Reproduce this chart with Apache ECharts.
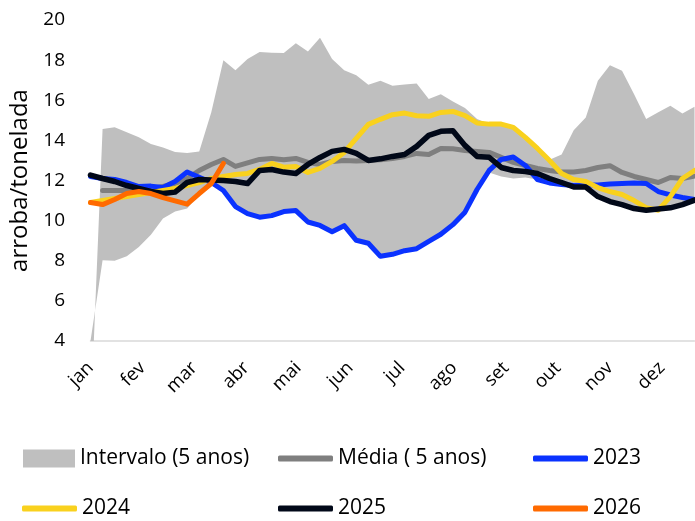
<!DOCTYPE html>
<html>
<head>
<meta charset="utf-8">
<script src="https://cdn.jsdelivr.net/npm/echarts@6/dist/echarts.min.js"></script>
<style>html,body{margin:0;padding:0;background:#fff}#c{width:695px;height:521px}</style>
</head>
<body>
<div id="c"></div>
<script>
const months = ['jan','fev','mar','abr','mai','jun','jul','ago','set','out','nov','dez'];
const weeks = [0,1,2,3,4,5,6,7,8,9,10,11,12,13,14,15,16,17,18,19,20,21,22,23,24,25,26,27,28,29,30,31,32,33,34,35,36,37,38,39,40,41,42,43,44,45,46,47,48,49,50];
const bandMax = [0,14.57,14.65,14.4,14.15,13.82,13.65,13.42,13.37,13.45,15.4,18.0,17.5,18.05,18.4,18.37,18.36,18.84,18.43,19.12,18.05,17.5,17.25,16.77,16.97,16.72,16.78,16.83,16.06,16.3,15.94,15.61,15.06,14.81,14.81,14.65,14.15,13.6,13.03,13.29,14.5,15.14,16.97,17.75,17.47,16.3,15.06,15.4,15.73,15.34,15.68];
const bandMin = [0,8.03,8.0,8.22,8.68,9.3,10.1,10.45,10.6,11.3,11.8,11.5,10.7,10.35,10.17,10.25,10.45,10.5,9.93,9.76,9.45,9.75,9.02,8.87,8.22,8.32,8.5,8.6,8.97,9.32,9.8,10.42,11.55,12.4,12.2,12.1,12.15,12.05,11.88,11.8,11.68,11.67,11.2,10.95,10.8,10.6,10.52,10.5,10.64,10.8,11.0];
const media = [null,11.5,11.5,11.5,11.55,11.6,11.7,11.85,12.1,12.5,12.8,13.05,12.7,12.88,13.05,13.1,13.03,13.1,12.9,12.8,12.95,13.0,12.97,13.0,13.03,13.1,13.2,13.35,13.3,13.6,13.58,13.5,13.45,13.4,13.15,12.9,12.75,12.6,12.5,12.42,12.42,12.5,12.65,12.74,12.4,12.2,12.05,11.9,12.15,12.1,12.22];
const y2023 = [12.2,12.1,12.05,11.9,11.7,11.72,11.65,11.95,12.42,12.16,11.9,11.5,10.7,10.35,10.17,10.25,10.45,10.5,9.93,9.76,9.45,9.75,9.02,8.87,8.22,8.32,8.5,8.6,8.97,9.32,9.8,10.42,11.55,12.5,13.05,13.17,12.75,12.05,11.88,11.8,11.75,11.78,11.78,11.82,11.85,11.88,11.85,11.45,11.28,11.15,11.05];
const y2024 = [10.9,11.0,11.1,11.2,11.3,11.4,11.5,11.6,11.75,11.9,12.1,12.2,12.3,12.35,12.55,12.85,12.66,12.7,12.4,12.6,12.95,13.4,14.1,14.8,15.05,15.28,15.36,15.23,15.2,15.39,15.44,15.23,14.87,14.81,14.81,14.65,14.15,13.6,13.0,12.35,12.05,11.95,11.65,11.45,11.3,11.0,10.65,10.52,11.2,12.1,12.5];
const y2025 = [12.27,12.1,11.95,11.75,11.6,11.45,11.35,11.42,11.9,12.05,12.03,12.0,11.95,11.85,12.5,12.55,12.42,12.35,12.8,13.15,13.45,13.55,13.35,13.0,13.08,13.2,13.3,13.7,14.25,14.45,14.48,13.75,13.2,13.16,12.65,12.5,12.45,12.35,12.1,11.9,11.68,11.67,11.2,10.95,10.8,10.6,10.52,10.58,10.64,10.8,11.02];
const y2026 = [10.9,10.8,11.05,11.35,11.45,11.35,11.15,10.98,10.82,11.35,11.85,12.85];
const yTicks = {min: 4, max: 20, interval: 2};

const FONT = 'Open Sans';
const MONTH_STEP = 4.3;

const bandDiff = bandMax.map((v, i) => +(v - bandMin[i]).toFixed(3));

function lineSeries(name, arr, color, width) {
  return {
    name, type: 'line', xAxisIndex: 0, data: arr, symbol: 'none', smooth: false,
    connectNulls: false,
    lineStyle: {color, width, cap: 'round', join: 'round'}, itemStyle: {color},
    emphasis: {disabled: true}, silent: true, z: 3
  };
}

const textBase = {fontFamily: FONT, color: '#000', fontSize: 21, lineHeight: 20};
function legend(left, top, name, icon, color, w, h) {
  return {
    left, top, orient: 'vertical', padding: 0, itemGap: 0,
    itemWidth: w, itemHeight: h, selectedMode: false,
    data: [{name, icon, itemStyle: {color}}],
    textStyle: textBase
  };
}

const chart = echarts.init(document.getElementById('c'), null, {renderer: 'canvas'});
chart.setOption({
  animation: false,
  backgroundColor: '#fff',
  grid: {left: 90.5, right: 0.5, top: 20, bottom: 180, containLabel: false, outerBoundsMode: 'none'},
  legend: [
    legend(23, 448, 'Intervalo (5 anos)', 'rect', '#bfbfbf', 52, 18),
    legend(278, 448, 'Média ( 5 anos)', 'roundRect', '#7f7f7f', 55, 6),
    legend(533, 448, '2023', 'roundRect', '#0a32ff', 55, 6),
    legend(22, 498, '2024', 'roundRect', '#f9d11e', 55, 6),
    legend(278, 498, '2025', 'roundRect', '#010818', 55, 6),
    legend(533, 498, '2026', 'roundRect', '#ff6a00', 55, 6)
  ],
  xAxis: [
    {
      type: 'category', data: weeks, boundaryGap: false,
      axisLine: {show: true, lineStyle: {color: '#d9d9d9', width: 1.5}},
      axisTick: {show: false}, axisLabel: {show: false}, splitLine: {show: false}
    },
    {
      type: 'value', position: 'bottom', min: 0, max: weeks[weeks.length - 1], interval: MONTH_STEP,
      axisLine: {show: false}, axisTick: {show: false}, splitLine: {show: false},
      axisLabel: {
        rotate: 45, margin: 24, fontFamily: FONT, fontSize: 18.5, color: '#000',
        padding: [6, 0, 0, 0],
        showMinLabel: true, showMaxLabel: false,
        formatter: v => {
          const k = Math.round(v / MONTH_STEP);
          return (Math.abs(v - k * MONTH_STEP) < 0.01 && k < months.length) ? months[k] : '';
        }
      }
    }
  ],
  yAxis: {
    type: 'value', min: yTicks.min, max: yTicks.max, interval: yTicks.interval,
    name: 'arroba/tonelada', nameLocation: 'middle', nameGap: 55,
    nameTextStyle: {fontFamily: FONT, fontSize: 24, color: '#000'},
    axisLine: {show: false}, axisTick: {show: false}, splitLine: {show: false},
    axisLabel: {fontFamily: FONT, fontSize: 19, color: '#000', margin: 25.5}
  },
  series: [
    {name: 'base', type: 'line', xAxisIndex: 0, stack: 'band', data: bandMin, symbol: 'none',
     lineStyle: {width: 0, opacity: 0}, silent: true, z: 1},
    {name: 'Intervalo (5 anos)', type: 'line', xAxisIndex: 0, stack: 'band', data: bandDiff, symbol: 'none',
     lineStyle: {width: 0, opacity: 0}, itemStyle: {color: '#bfbfbf'},
     areaStyle: {color: '#bfbfbf', opacity: 1}, silent: true, z: 1},
    lineSeries('Média ( 5 anos)', media, '#7f7f7f', 5),
    lineSeries('2023', y2023, '#0a32ff', 5),
    lineSeries('2024', y2024, '#f9d11e', 5),
    lineSeries('2025', y2025, '#010818', 5.5),
    lineSeries('2026', y2026, '#ff6a00', 5)
  ]
});
</script>
</body>
</html>
